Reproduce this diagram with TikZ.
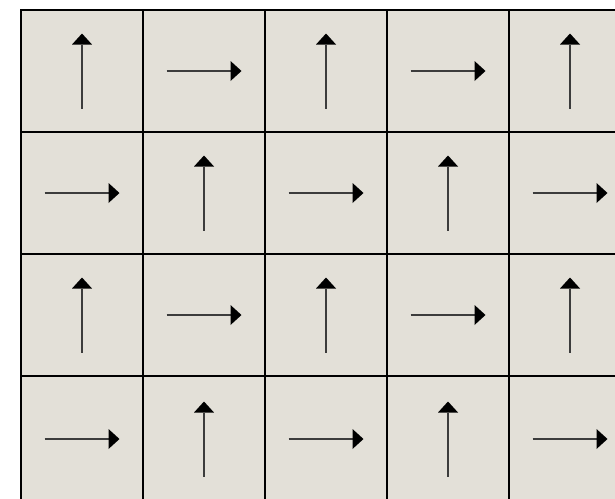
\documentclass[tikz,border=0pt]{standalone}
\usetikzlibrary{arrows.meta}
\definecolor{cellfill}{RGB}{227,224,216}
\definecolor{shaft}{RGB}{60,60,60}
\tikzset{
  cell/.style={draw=black, line width=1.6pt, fill=cellfill, minimum width=122pt, minimum height=122pt, inner sep=0pt, outer sep=0pt},
  lastcell/.style={cell, minimum height=126pt},
  arr/.style={draw=shaft, line width=1.6pt, -{Triangle[length=11pt,width=20pt,line width=0pt,color=black,fill=black]}}
}
\begin{document}
\begin{tikzpicture}[x=1pt,y=-1pt]
\useasboundingbox (0,0) rectangle (615,498);
\clip (0,0) rectangle (615,498);
\fill[white] (0,0) rectangle (615,498);
\foreach \r in {0,1,2}{
  \foreach \c in {0,1,2,3,4}{
    \node[cell] (c\r\c) at ({21+61+122*\c},{10+61+122*\r}) {};
  }
}
\foreach \c in {0,1,2,3,4}{
  \node[lastcell] (c3\c) at ({21+61+122*\c},{376+63}) {};
}
\foreach \r in {0,1,2,3}{
  \foreach \c in {0,1,2,3,4}{
    \pgfmathtruncatemacro{\p}{mod(\r+\c,2)}
    \ifnum\p=0
      \draw[arr] ([yshift=-37.5pt]c\r\c.center) -- ([yshift=37.5pt]c\r\c.center);
    \else
      \draw[arr] ([xshift=-37.5pt]c\r\c.center) -- ([xshift=37.5pt]c\r\c.center);
    \fi
  }
}
\end{tikzpicture}
\end{document}
